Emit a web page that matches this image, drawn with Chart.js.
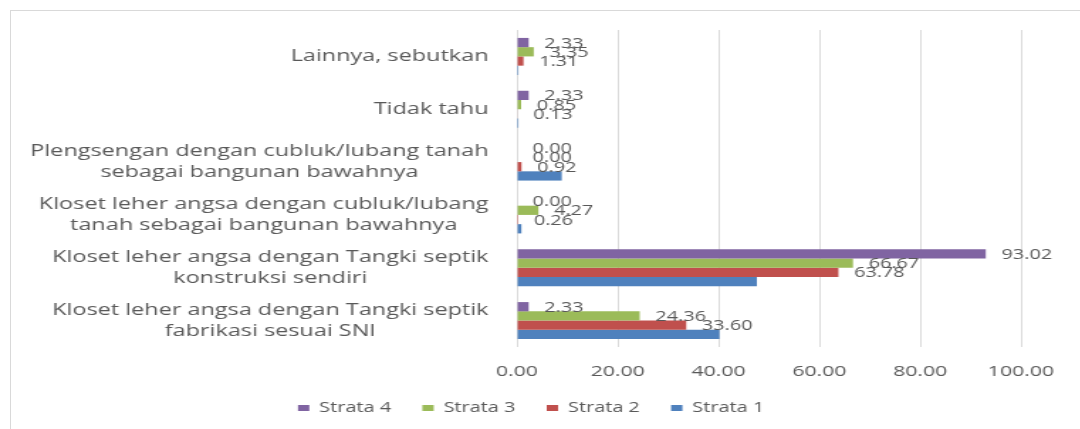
<!DOCTYPE html>
<html><head><meta charset="utf-8">
<script src="https://cdn.jsdelivr.net/npm/chart.js@4.4.1/dist/chart.umd.min.js"></script>
<style>
html,body{margin:0;padding:0;background:#fff;overflow:hidden;width:1080px;height:429px;}
#frame{position:absolute;left:10px;top:10px;width:1100px;height:440px;border:1px solid #d9d9d9;box-sizing:border-box;}
#wrap{position:absolute;left:0;top:0;width:761px;height:429px;transform:scaleX(1.42);transform-origin:0 0;}
canvas{display:block;}
</style></head><body>
<div id="frame"></div>
<div id="wrap"><canvas id="c" width="761" height="429"></canvas></div>
<script>
// Categories (top to bottom as drawn)
const categories = [
  "Lainnya, sebutkan",
  "Tidak tahu",
  ["Plengsengan dengan cubluk/lubang tanah", "sebagai bangunan bawahnya"],
  ["Kloset leher angsa dengan cubluk/lubang", "tanah sebagai bangunan bawahnya"],
  ["Kloset leher angsa dengan Tangki septik", "konstruksi sendiri"],
  ["Kloset leher angsa dengan Tangki septik", "fabrikasi sesuai SNI"]
];
const seriesNames = ["Strata 4", "Strata 3", "Strata 2", "Strata 1"];
const strata4 = [2.33, 2.33, 0.00, 0.00, 93.02, 2.33];
const strata3 = [3.35, 0.85, 0.00, 4.27, 66.67, 24.36];
const strata2 = [1.31, 0.13, 0.92, 0.26, 63.78, 33.60];
const strata1 = [0.3, 0.3, 8.9, 0.9, 47.6, 40.2];
const seriesColors = ["#8064A2", "#9BBB59", "#C0504D", "#4F81BD"];
const labelledSeries = [true, true, true, false];
const xTicks = [0, 20, 40, 60, 80, 100];

const TEXT = "#595959";
const FONT = '"Open Sans", "DejaVu Sans", sans-serif';

const excelLabels = {
  id: 'excelLabels',
  afterDraw(chart) {
    const ctx = chart.ctx;
    const yScale = chart.scales.y;
    const area = chart.chartArea;
    ctx.save();
    ctx.fillStyle = TEXT;
    ctx.font = '16.5px ' + FONT;
    ctx.textBaseline = 'middle';
    ctx.textAlign = 'center';
    const right = area.left - 20;
    const lh = 21;
    categories.forEach((lab, i) => {
      const lines = Array.isArray(lab) ? lab : [lab];
      const w = Math.max(...lines.map(l => ctx.measureText(l).width));
      const cx = right - w / 2;
      const cy = yScale.getPixelForValue(i);
      lines.forEach((l, j) => {
        ctx.fillText(l, cx, cy + (j - (lines.length - 1) / 2) * lh);
      });
    });
    ctx.font = '14px ' + FONT;
    ctx.textAlign = 'left';
    chart.data.datasets.forEach((ds, di) => {
      if (!labelledSeries[di]) return;
      const meta = chart.getDatasetMeta(di);
      meta.data.forEach((bar, i) => {
        ctx.fillText(ds.data[i].toFixed(2), bar.x + 11, bar.y + 1);
      });
    });
    ctx.restore();
  }
};

const allSeries = [strata4, strata3, strata2, strata1];
new Chart(document.getElementById('c'), {
  type: 'bar',
  data: {
    labels: categories,
    datasets: allSeries.map((d, i) => ({
      label: seriesNames[i],
      data: d,
      backgroundColor: seriesColors[i],
      borderWidth: 0,
      categoryPercentage: 0.7,
      barPercentage: 1.0
    }))
  },
  options: {
    indexAxis: 'y',
    responsive: false,
    animation: false,
    devicePixelRatio: 1,
    layout: { padding: { left: 29, right: 42, top: 30, bottom: 4 } },
    scales: {
      y: {
        display: true,
        ticks: { display: false },
        grid: { display: false },
        border: { display: false },
        afterFit(scale) { scale.width = 335; }
      },
      x: {
        min: 0, max: 100,
        afterBuildTicks(scale) { scale.ticks = xTicks.map(v => ({ value: v })); },
        afterFit(scale) { scale.height = 32; },
        grid: { color: '#d9d9d9', drawTicks: false, lineWidth: 1 },
        border: { display: false },
        ticks: {
          color: TEXT,
          font: { family: FONT, size: 15 },
          padding: 16,
          callback: v => Number(v).toFixed(2)
        }
      }
    },
    plugins: {
      tooltip: { enabled: false },
      legend: {
        position: 'bottom',
        labels: {
          color: TEXT,
          font: { family: FONT, size: 14 },
          boxWidth: 8,
          boxHeight: 6,
          padding: 22
        }
      }
    }
  },
  plugins: [excelLabels]
});
</script>
</body></html>
